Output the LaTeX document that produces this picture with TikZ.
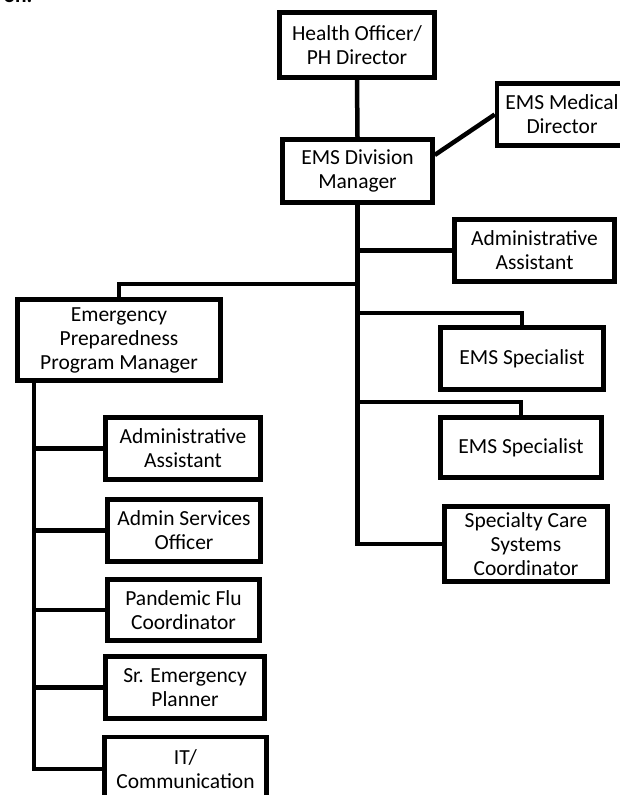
\documentclass[tikz,border=0pt]{standalone}
\usepackage{fontspec}
\setmainfont{Carlito}
\usepackage{tikz}

\tikzset{
  orgbox/.style={draw, line width=4.5pt, align=center, inner sep=0pt,
    font=\fontsize{21.5}{24}\selectfont},
  linie/.style={line width=4.5pt}
}

\begin{document}
\begin{tikzpicture}[x=1pt, y=-1pt]

\useasboundingbox (0,0) rectangle (619,795);

% Titelrest (oben abgeschnitten)
\node[anchor=base east, font=\fontsize{21.5}{24}\selectfont\bfseries] (titel) at (36,2.5) {on.};

% Leitung
\node[orgbox, minimum width=155pt, minimum height=65pt] (health) at (357,45) {Health Officer/\\PH Director};
\node[orgbox, minimum width=150pt, minimum height=63pt] (division) at (357.5,171) {EMS Division\\Manager};
\node[orgbox, minimum width=130pt, minimum height=62pt] (medical) at (562,114.5) {EMS Medical\\Director};

% Rechter Zweig
\node[orgbox, minimum width=160pt, minimum height=62pt] (admin) at (534.5,250.5) {Administrative\\Assistant};
\node[orgbox, minimum width=163pt, minimum height=62pt] (spec1) at (522,358.5) {EMS Specialist};
\node[orgbox, minimum width=161pt, minimum height=60pt] (spec2) at (521,447.5) {EMS Specialist};
\node[orgbox, minimum width=163pt, minimum height=75pt] (care) at (526,544) {Specialty Care\\Systems\\Coordinator};

% Linker Zweig
\node[orgbox, minimum width=203pt, minimum height=81pt] (ep) at (119,340) {Emergency\\Preparedness\\Program Manager};
\node[orgbox, minimum width=155pt, minimum height=62pt] (aa) at (183,448.5) {Administrative\\Assistant};
\node[orgbox, minimum width=153pt, minimum height=62pt] (aso) at (184,530.5) {Admin Services\\Officer};
\node[orgbox, minimum width=152pt, minimum height=61pt] (flu) at (183.5,610) {Pandemic Flu\\Coordinator};
\node[orgbox, minimum width=159pt, minimum height=62pt] (planner) at (185,687.5) {Sr. Emergency\\Planner};
\node[orgbox, minimum width=162pt, minimum height=64pt] (it) at (185.5,769) {IT/\\Communication};

% Verbindungen oben
\draw[linie] (health.south) -- (division.north);
\draw[linie] ([yshift=16pt]division.east) -- (medical.west);

% Hauptstamm rechts
\coordinate (epab) at (357.5,284);
\coordinate (spec1ab) at (357.5,313);
\coordinate (spec2ab) at (357.5,402);
\draw[linie] (division.south) |- (care.west);
\draw[linie] (division.south |- admin.west) -- (admin.west);
\draw[linie] (epab) -| (ep.north);
\draw[linie] (spec1ab) -| (spec1.north);
\draw[linie] (spec2ab) -| (spec2.north);

% Stamm links
\coordinate (links) at ([xshift=18.5pt]ep.south west);
\draw[linie] (links) |- (it.west);
\foreach \n in {aa,aso,flu,planner} {
    \draw[linie] (links |- \n.west) -- (\n.west);
}

\end{tikzpicture}
\end{document}
